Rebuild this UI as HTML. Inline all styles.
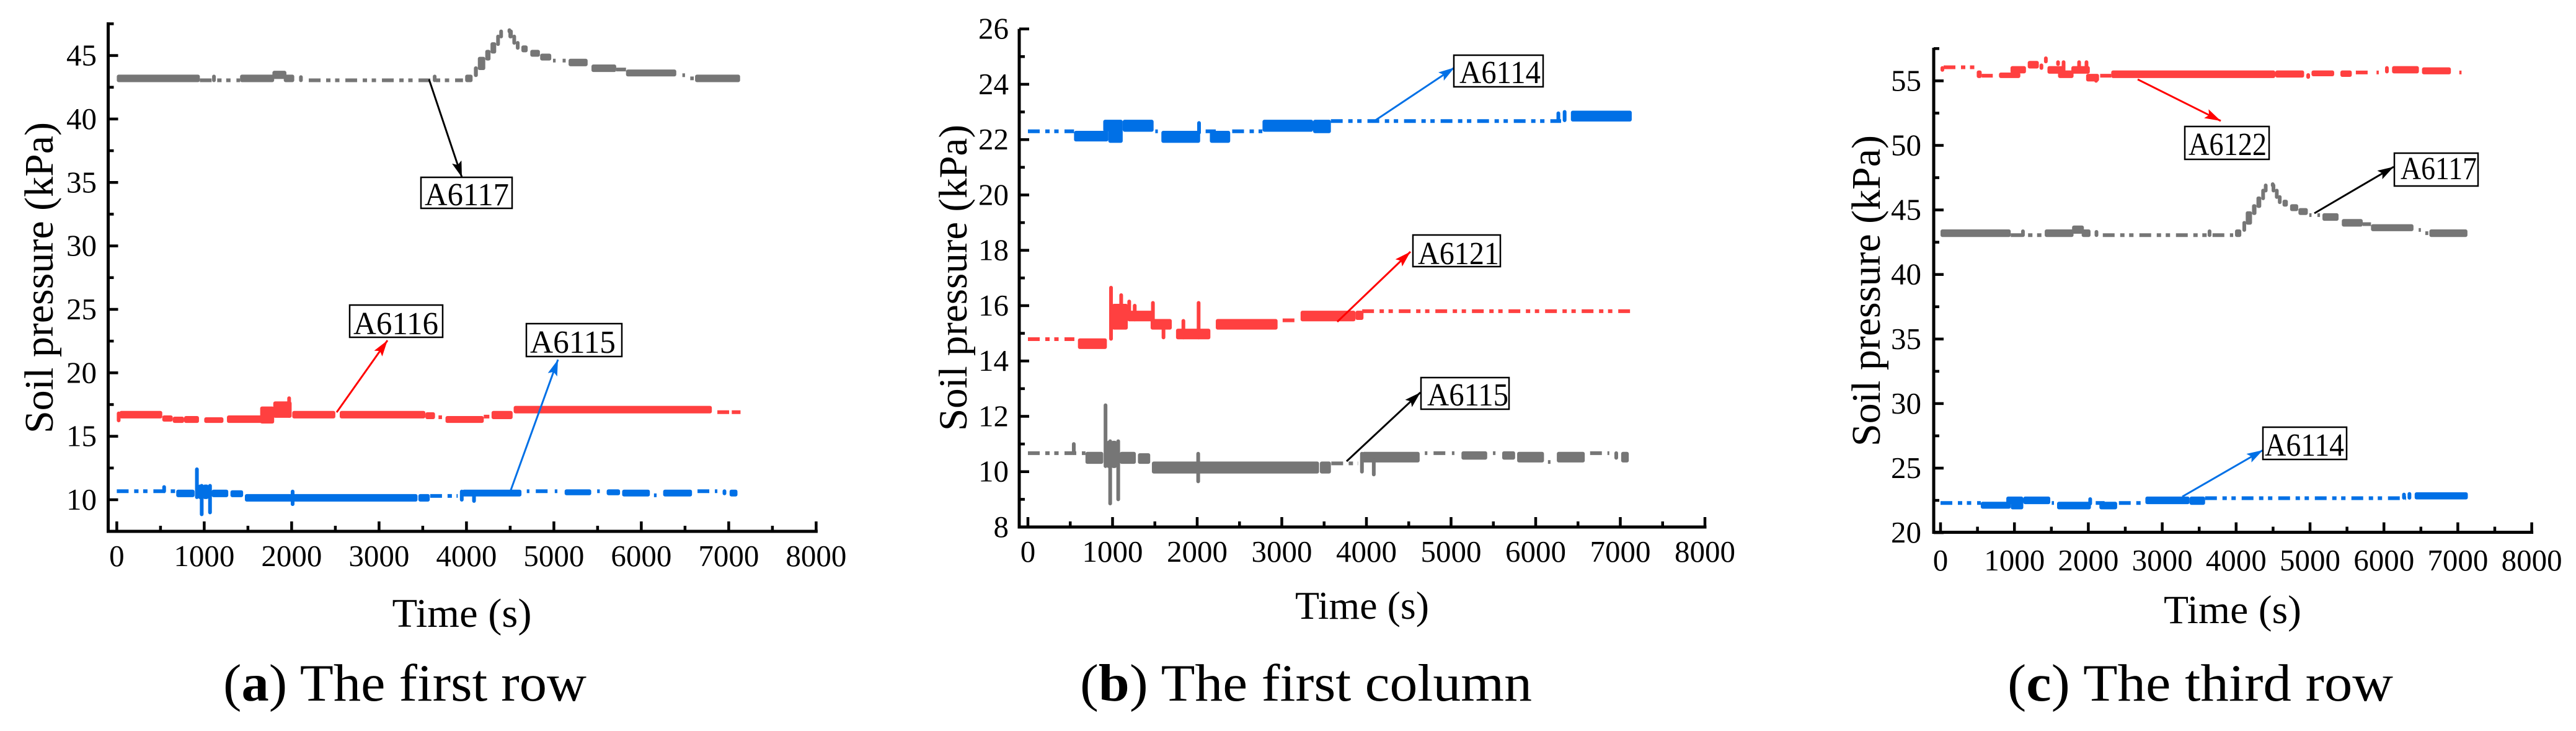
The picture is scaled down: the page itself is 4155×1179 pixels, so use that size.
<!DOCTYPE html>
<html lang="en">
<head>
<meta charset="utf-8">
<title>Soil pressure time histories</title>
<style>
html,body{margin:0;padding:0;background:#fff;}
svg{display:block;}
text{font-family:"Liberation Serif","Times New Roman",serif;fill:#000;}
</style>
</head>
<body>
<svg id="chart" xmlns="http://www.w3.org/2000/svg" width="4155" height="1179" viewBox="0 0 4155 1179">
  <defs>
    <marker id="head-black" markerUnits="userSpaceOnUse" markerWidth="30" markerHeight="20" refX="26" refY="8" orient="auto"><path d="M0 0L26 8L0 16L5 8Z" fill="#000"/></marker>
    <marker id="head-red" markerUnits="userSpaceOnUse" markerWidth="30" markerHeight="20" refX="26" refY="8" orient="auto"><path d="M0 0L26 8L0 16L5 8Z" fill="#ff0000"/></marker>
    <marker id="head-blue" markerUnits="userSpaceOnUse" markerWidth="30" markerHeight="20" refX="26" refY="8" orient="auto"><path d="M0 0L26 8L0 16L5 8Z" fill="#0070e6"/></marker>
  </defs>
  <rect x="0" y="0" width="4155" height="1179" fill="#fff"/>

  <g id="panel-a">
    <text x="745" y="1011" font-size="66" text-anchor="middle" textLength="225" lengthAdjust="spacingAndGlyphs">Time (s)</text>
    <text transform="translate(85 448) rotate(-90)" font-size="66" text-anchor="middle" textLength="502" lengthAdjust="spacingAndGlyphs">Soil pressure (kPa)</text>
    <text x="360" y="1130" font-size="85" textLength="586" lengthAdjust="spacingAndGlyphs">(<tspan font-weight="bold">a</tspan>) The first row</text>
  </g>
  <g id="panel-b">
    <text x="2197" y="998" font-size="63" text-anchor="middle" textLength="216" lengthAdjust="spacingAndGlyphs">Time (s)</text>
    <text transform="translate(1559 448) rotate(-90)" font-size="65" text-anchor="middle" textLength="494" lengthAdjust="spacingAndGlyphs">Soil pressure (kPa)</text>
    <text x="1742" y="1130" font-size="85" textLength="729" lengthAdjust="spacingAndGlyphs">(<tspan font-weight="bold">b</tspan>) The first column</text>
  </g>
  <g id="panel-c">
    <text x="3601" y="1005" font-size="65" text-anchor="middle" textLength="222" lengthAdjust="spacingAndGlyphs">Time (s)</text>
    <text transform="translate(3032 469) rotate(-90)" font-size="66" text-anchor="middle" textLength="502" lengthAdjust="spacingAndGlyphs">Soil pressure (kPa)</text>
    <text x="3238" y="1130" font-size="85" textLength="622" lengthAdjust="spacingAndGlyphs">(<tspan font-weight="bold">c</tspan>) The third row</text>
  </g>

  <g id="annotations">
    <line x1="692" y1="128" x2="745" y2="286" stroke="#000" stroke-width="3" marker-end="url(#head-black)"/>
    <rect x="679" y="286" width="147" height="50" fill="#fff" stroke="#000" stroke-width="2.5"/>
    <text x="685" y="331" font-size="52" textLength="136" lengthAdjust="spacingAndGlyphs">A6117</text>
    <line x1="543" y1="665" x2="625" y2="549" stroke="#ff0000" stroke-width="3" marker-end="url(#head-red)"/>
    <rect x="564" y="492" width="150" height="52" fill="#fff" stroke="#000" stroke-width="2.5"/>
    <text x="570" y="539" font-size="52" textLength="137" lengthAdjust="spacingAndGlyphs">A6116</text>
    <line x1="823" y1="793" x2="900" y2="580" stroke="#0070e6" stroke-width="3" marker-end="url(#head-blue)"/>
    <rect x="849" y="522" width="154" height="53" fill="#fff" stroke="#000" stroke-width="2.5"/>
    <text x="855" y="569" font-size="52" textLength="138" lengthAdjust="spacingAndGlyphs">A6115</text>

    <line x1="2214" y1="197" x2="2346" y2="109" stroke="#0070e6" stroke-width="3" marker-end="url(#head-blue)"/>
    <rect x="2345" y="89" width="144" height="51" fill="#fff" stroke="#000" stroke-width="2.5"/>
    <text x="2354" y="134" font-size="52" textLength="131" lengthAdjust="spacingAndGlyphs">A6114</text>
    <line x1="2157" y1="519" x2="2275" y2="406" stroke="#ff0000" stroke-width="3" marker-end="url(#head-red)"/>
    <rect x="2279" y="379" width="141" height="51" fill="#fff" stroke="#000" stroke-width="2.5"/>
    <text x="2287" y="426" font-size="52" textLength="131" lengthAdjust="spacingAndGlyphs">A6121</text>
    <line x1="2172" y1="744" x2="2291" y2="633" stroke="#000" stroke-width="3" marker-end="url(#head-black)"/>
    <rect x="2292" y="609" width="142" height="51" fill="#fff" stroke="#000" stroke-width="2.5"/>
    <text x="2302" y="654" font-size="52" textLength="131" lengthAdjust="spacingAndGlyphs">A6115</text>

    <line x1="3448" y1="128" x2="3582" y2="195" stroke="#ff0000" stroke-width="3" marker-end="url(#head-red)"/>
    <rect x="3524" y="204" width="136" height="53" fill="#fff" stroke="#000" stroke-width="2.5"/>
    <text x="3530" y="250" font-size="52" textLength="126" lengthAdjust="spacingAndGlyphs">A6122</text>
    <line x1="3733" y1="344" x2="3861" y2="269" stroke="#000" stroke-width="3" marker-end="url(#head-black)"/>
    <rect x="3862" y="247" width="135" height="53" fill="#fff" stroke="#000" stroke-width="2.5"/>
    <text x="3872" y="289" font-size="52" textLength="123" lengthAdjust="spacingAndGlyphs">A6117</text>
    <line x1="3520" y1="801" x2="3650" y2="726" stroke="#0070e6" stroke-width="3" marker-end="url(#head-blue)"/>
    <rect x="3650" y="689" width="135" height="52" fill="#fff" stroke="#000" stroke-width="2.5"/>
    <text x="3653" y="735" font-size="52" textLength="128" lengthAdjust="spacingAndGlyphs">A6114</text>
  </g>
</svg>
<script>
// Shared x axis
const xMajorTicks = [0,1000,2000,3000,4000,5000,6000,7000,8000];
const xMinorTicks = [500,1500,2500,3500,4500,5500,6500,7500];

// y axis ticks per panel
const panelAYTicks = [10,15,20,25,30,35,40,45];
const panelAYMinor = [7.5,12.5,17.5,22.5,27.5,32.5,37.5,42.5,47.5];
const panelBYTicks = [8,10,12,14,16,18,20,22,24,26];
const panelBYMinor = [9,11,13,15,17,19,21,23,25];
const panelCYTicks = [20,25,30,35,40,45,50,55];
const panelCYMinor = [22.5,27.5,32.5,37.5,42.5,47.5,52.5,57.5];

// Sensor records: each row is a time span (s) with the low and high pressure (kPa)
// reached in that span. Rows where low equals high are a plain dash-dot trace.
const a6117Start = [0,950,1090,1410,1780,1910,2085,2196,3615,3985,4085,4130,4215,4275,4340,4375,4470,4480,4525,4565,4628,4730,4843,4990,5100,5168,5430,5713,5825,6470,6560,6615];
const a6117End   = [950,1410,1115,1800,1940,2030,2120,3960,3640,4070,4130,4215,4275,4340,4375,4410,4500,4530,4565,4605,4700,4840,4970,5020,5135,5386,5713,5825,6400,6500,6600,7130];
const a6117Low   = [43.05,43.05,43.05,43.05,43.3,43.05,43.05,43.05,43.05,43.05,43.45,44.0,44.75,45.3,45.9,46.5,46.9,46.5,46.0,45.6,45.4,45.05,44.75,44.6,44.6,44.3,43.85,43.9,43.5,43.45,43.2,43.05];
const a6117High  = [43.35,43.05,43.35,43.35,43.65,43.35,43.3,43.05,43.35,43.35,44.0,44.75,45.3,45.9,46.5,46.9,47.0,46.9,46.5,46.0,45.65,45.3,45.0,44.6,44.6,44.6,44.15,43.9,43.75,43.45,43.2,43.35];

const a6115Start = [0,520,680,895,930,950,985,1045,1085,1300,1465,1990,3450,3585,3925,3950,4065,4690,4793,5010,5123,5495,5604,5781,6145,6250,6643,6930,7010];
const a6115End   = [680,540,890,930,960,990,1050,1080,1275,1445,3440,2010,3580,3900,3950,4629,4085,4720,4940,5040,5427,5525,5757,6098,6175,6580,6870,6965,7100];
const a6115Low   = [10.67,10.67,10.35,10.2,10.2,8.85,10.2,9.0,10.35,10.35,10.0,9.65,10.0,10.3,10.0,10.4,9.9,10.67,10.67,10.67,10.5,10.67,10.5,10.4,10.35,10.4,10.67,10.5,10.4];
const a6115High  = [10.67,11.0,10.65,12.4,11.05,11.1,11.05,11.1,10.65,10.6,10.3,10.65,10.3,10.3,10.65,10.65,10.4,10.67,10.67,10.67,10.67,10.67,10.67,10.65,10.35,10.65,10.67,10.67,10.65];

const a6116Start = [0,30,520,640,770,1000,1260,1640,1790,1950,2007,2550,3530,3680,3760,4198,4287,4540,6870,7035];
const a6116End   = [30,520,640,770,940,1220,1670,1800,2000,1970,2500,3530,3640,3720,4198,4262,4528,6807,7010,7135];
const a6116Low   = [16.25,16.55,16.3,16.2,16.2,16.2,16.2,16.15,16.6,16.6,16.55,16.55,16.5,16.5,16.2,16.55,16.5,16.95,16.9,16.9];
const a6116High  = [16.8,16.85,16.5,16.4,16.45,16.35,16.5,17.2,17.6,18.0,16.85,16.85,16.75,16.5,16.45,16.55,16.85,17.25,16.9,16.9];

const a6114Start = [0,545,890,950,1120,1505,1577,2000,2100,2150,2414,2772,3370,3580,6246,6320,6416];
const a6114End   = [545,950,1120,1120,1485,1535,2035,2020,2220,2390,2770,3370,3580,6300,6280,6364,7135];
const a6114Low   = [22.3,22.0,22.35,21.95,22.35,22.3,21.95,22.25,22.3,21.95,22.3,22.35,22.3,22.67,22.7,22.7,22.72];
const a6114High  = [22.3,22.25,22.65,22.3,22.65,22.3,22.25,22.6,22.3,22.25,22.3,22.65,22.65,22.67,22.95,23.0,22.98];

const a6121Start = [0,591,960,995,1080,1180,1175,1240,1455,1450,1580,1750,1815,1995,2220,3010,3222,3870,3950];
const a6121End   = [549,933,995,1180,1100,1475,1200,1260,1475,1700,1600,2156,1835,2020,2950,3170,3870,3965,7130];
const a6121Low   = [14.79,14.5,14.8,15.2,15.9,15.5,15.5,15.5,15.5,15.2,14.85,14.85,14.85,14.85,15.2,15.47,15.5,15.55,15.8];
const a6121High  = [14.79,14.75,16.65,16.0,16.38,15.75,16.15,16.0,16.1,15.45,15.45,15.1,15.45,16.1,15.45,15.47,15.75,15.75,15.8];

const a6122Start = [0,42,490,557,791,947,1180,1340,1400,1447,1565,1640,1590,1770,1850,1950,1970,2080,2160,2310,4530,4950,5020,5411,5620,5900,6015,6110,6515,7020];
const a6122End   = [24,467,557,707,1080,1156,1330,1365,1425,1665,1590,1665,1800,2020,1875,1975,2145,2110,2310,4530,4920,4980,5327,5565,5816,5930,6040,6473,6906,7050];
const a6122Low   = [55.85,56.05,55.36,55.4,55.36,55.72,56.1,56.0,56.5,55.7,56.3,55.7,55.36,55.7,56.0,56.0,55.1,55.0,55.4,55.36,55.4,55.3,55.5,55.45,55.65,55.65,55.72,55.72,55.65,55.65];
const a6122High  = [56.0,56.05,55.66,55.4,55.5,56.0,56.4,56.2,56.75,56.0,56.45,56.45,55.66,56.0,56.45,56.45,55.4,55.2,55.4,55.66,55.66,55.45,55.66,55.66,55.65,55.65,56.0,56.0,55.9,55.65];

const gray = '#767676', red = '#ff4040', blue = '#0070e6';
const NS = 'http://www.w3.org/2000/svg';

// Axis geometry per panel (scale functions below turn data into pixels)
const panels = [
  {id:'panel-a', key:'a', axisLeft:174.5, axisTop:36, axisBottom:857, x0:188.4, xUnit:0.141, vRef:10, yRef:806, yUnit:20.47,
   yMajor:panelAYTicks, yMinor:panelAYMinor, yLabelX:156, xLabelY:913,
   series:[
     {name:'a6117', s:a6117Start, e:a6117End, lo:a6117Low, hi:a6117High, color:gray},
     {name:'a6116', s:a6116Start, e:a6116End, lo:a6116Low, hi:a6116High, color:red},
     {name:'a6115', s:a6115Start, e:a6115End, lo:a6115Low, hi:a6115High, color:blue}]},
  {id:'panel-b', key:'b', axisLeft:1644, axisTop:46.6, axisBottom:850, x0:1658, xUnit:0.1365, vRef:8, yRef:850, yUnit:44.63,
   yMajor:panelBYTicks, yMinor:panelBYMinor, yLabelX:1627, xLabelY:906,
   series:[
     {name:'a6114', s:a6114Start, e:a6114End, lo:a6114Low, hi:a6114High, color:blue},
     {name:'a6121', s:a6121Start, e:a6121End, lo:a6121Low, hi:a6121High, color:red},
     {name:'a6115', s:a6115Start, e:a6115End, lo:a6115Low, hi:a6115High, color:gray}]},
  {id:'panel-c', key:'c', axisLeft:3119, axisTop:77, axisBottom:858.5, x0:3130, xUnit:0.1192, vRef:25, yRef:755, yUnit:20.82,
   yMajor:panelCYTicks, yMinor:panelCYMinor, yLabelX:3099, xLabelY:920,
   series:[
     {name:'a6122', s:a6122Start, e:a6122End, lo:a6122Low, hi:a6122High, color:red},
     {name:'a6117', s:a6117Start, e:a6117End, lo:a6117Low, hi:a6117High, color:gray},
     {name:'a6114', s:a6114Start, e:a6114End, lo:a6114Low, hi:a6114High, color:blue}]}
];

function xScale(p, t){ return p.x0 + t * p.xUnit; }
function yScale(p, v){ return p.yRef - (v - p.vRef) * p.yUnit; }

function make(tag, attrs, parent){
  const el = document.createElementNS(NS, tag);
  for (const k in attrs) el.setAttribute(k, attrs[k]);
  parent.appendChild(el);
  return el;
}

function drawAxes(p, root){
  const xEnd = xScale(p, 8000);
  const yAxis = make('line', {x1:p.axisLeft, x2:p.axisLeft, y1:p.axisTop, y2:p.axisBottom+2.5, stroke:'#000','stroke-width':5}, root);
  
  
  const xAxis = make('line', {x1:p.axisLeft-2.5, x2:xEnd+2.5, y1:p.axisBottom, y2:p.axisBottom, stroke:'#000','stroke-width':5}, root);
  
  

  xMajorTicks.forEach(function(t){
    const x = xScale(p, t);
    const tick = make('line', {x1:x, x2:x, y1:p.axisBottom, y2:p.axisBottom-16, stroke:'#000','stroke-width':4.5}, root);
    
    
    const label = make('text', {x:x, y:p.xLabelY, 'font-size':49, 'text-anchor':'middle'}, root);
    
    
    label.textContent = String(t);
  });
  xMinorTicks.forEach(function(t){
    const x = xScale(p, t);
    const tick = make('line', {x1:x, x2:x, y1:p.axisBottom, y2:p.axisBottom-9, stroke:'#000','stroke-width':4.5}, root);
    
    
  });
  p.yMajor.forEach(function(v){
    const y = yScale(p, v);
    const tick = make('line', {x1:p.axisLeft, x2:p.axisLeft+16, y1:y, y2:y, stroke:'#000','stroke-width':4.5}, root);
    
    
    const label = make('text', {x:p.yLabelX, y:y+16, 'font-size':49, 'text-anchor':'end'}, root);
    
    
    label.textContent = String(v);
  });
  p.yMinor.forEach(function(v){
    const y = yScale(p, v);
    const tick = make('line', {x1:p.axisLeft, x2:p.axisLeft+9, y1:y, y2:y, stroke:'#000','stroke-width':4.5}, root);
    
    
  });
}

function drawSeries(p, s, root){
  const group = make('g', {}, root);
  
  
  s.s.forEach(function(start, i){
    const x1 = xScale(p, start), x2 = xScale(p, s.e[i]);
    const yLo = yScale(p, s.lo[i]), yHi = yScale(p, s.hi[i]);
    let d, attrs;
    if (s.lo[i] === s.hi[i]) {
      d = 'M' + x1 + ' ' + yLo + 'H' + x2;
      attrs = {d:d, fill:'none', stroke:s.color, 'stroke-width':6, 'stroke-dasharray':'19 9 7 7.5 7 9.5'};
    } else {
      const xa = x1 + 3, xb = Math.max(xa, x2 - 3);
      d = 'M' + xa + ' ' + yHi + 'H' + xb + 'V' + yLo + 'H' + xa + 'Z';
      attrs = {d:d, fill:s.color, stroke:s.color, 'stroke-width':6, 'stroke-linejoin':'round'};
    }
    const mark = make('path', attrs, group);
    
    
  });
}

panels.forEach(function(p){
  const root = document.getElementById(p.id);
  p.series.forEach(function(s){ drawSeries(p, s, root); });
  drawAxes(p, root);
});
// keep annotations above the traces
const svgRoot = document.getElementById('chart');
svgRoot.appendChild(document.getElementById('annotations'));
</script>
</body>
</html>
